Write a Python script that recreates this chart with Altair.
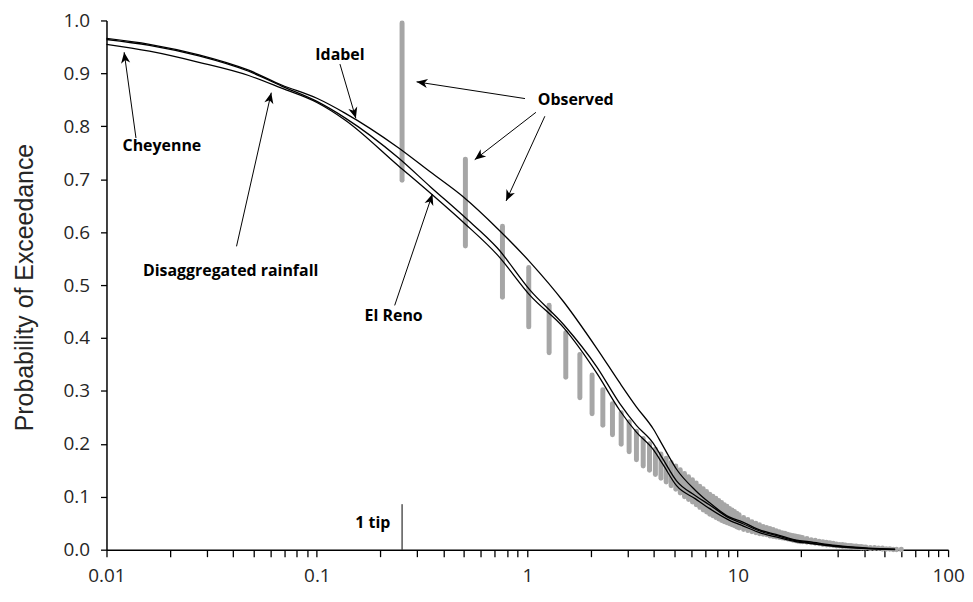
import math
import altair as alt
import pandas as pd

# ---------------- data ----------------
curve_x = [0.01, 0.016, 0.0275, 0.0474, 0.068, 0.1, 0.136, 0.243, 0.348, 0.502, 0.721, 1.033,
           1.491, 2.143, 2.753, 3.3, 3.972, 4.4, 5.12, 6.3, 7.33, 9.1, 10.58, 13.0, 15.2, 19.0,
           21.8, 29.2, 41.9, 56.0]
idabel = [0.966, 0.955, 0.935, 0.906, 0.878, 0.853, 0.825, 0.760, 0.713, 0.665, 0.607, 0.543,
          0.468, 0.380, 0.315, 0.270, 0.228, 0.197, 0.152, 0.112, 0.089, 0.062, 0.052, 0.036,
          0.029, 0.018, 0.015, 0.008, 0.003, 0.001]
el_reno = [0.964, 0.953, 0.933, 0.904, 0.876, 0.847, 0.816, 0.741, 0.685, 0.629, 0.570, 0.490,
           0.425, 0.345, 0.276, 0.235, 0.201, 0.172, 0.130, 0.102, 0.085, 0.060, 0.049, 0.034,
           0.027, 0.017, 0.013, 0.007, 0.002, 0.0005]
cheyenne = [0.955, 0.942, 0.921, 0.896, 0.872, 0.845, 0.812, 0.726, 0.673, 0.617, 0.557, 0.480,
            0.419, 0.333, 0.263, 0.222, 0.189, 0.162, 0.121, 0.096, 0.078, 0.056, 0.045, 0.031,
            0.024, 0.015, 0.012, 0.006, 0.002, 0.0003]

# observed: number of tips (1 tip = 0.254 mm), top and bottom of each vertical bar
tip_mm = 0.254
obs_n = list(range(1, 41)) + list(range(42, 81, 2)) + list(range(84, 161, 4)) + \
        [168, 176, 184, 192, 200, 208, 216, 224, 236]
obs_top = [0.995, 0.738, 0.611, 0.533, 0.462, 0.410, 0.369, 0.330, 0.302, 0.276,
           0.259, 0.242, 0.224, 0.210, 0.200, 0.190, 0.181, 0.173, 0.165, 0.158,
           0.151, 0.144, 0.138, 0.132, 0.126, 0.120, 0.115, 0.110, 0.105, 0.101,
           0.097, 0.093, 0.089, 0.085, 0.082, 0.078, 0.075, 0.072, 0.069, 0.066,
           0.061, 0.057, 0.053, 0.050, 0.047, 0.044, 0.042, 0.040, 0.038, 0.036,
           0.034, 0.032, 0.031, 0.029, 0.028, 0.027, 0.026, 0.025, 0.024, 0.023,
           0.021, 0.019, 0.018, 0.016, 0.015, 0.014, 0.013, 0.012, 0.011, 0.010,
           0.010, 0.009, 0.008, 0.008, 0.007, 0.007, 0.006, 0.006, 0.005, 0.005,
           0.004, 0.004, 0.003, 0.003, 0.002, 0.002, 0.001, 0.001, 0.001]
obs_bot = [0.698, 0.574, 0.477, 0.421, 0.372, 0.326, 0.287, 0.257, 0.235, 0.217,
           0.199, 0.185, 0.170, 0.158, 0.150, 0.142, 0.135, 0.128, 0.121, 0.114,
           0.107, 0.100, 0.095, 0.090, 0.085, 0.080, 0.075, 0.071, 0.067, 0.064,
           0.061, 0.058, 0.055, 0.053, 0.051, 0.049, 0.047, 0.045, 0.043, 0.041,
           0.038, 0.036, 0.034, 0.032, 0.030, 0.029, 0.028, 0.026, 0.025, 0.024,
           0.023, 0.022, 0.021, 0.020, 0.019, 0.018, 0.017, 0.016, 0.015, 0.015,
           0.014, 0.013, 0.012, 0.011, 0.010, 0.009, 0.009, 0.008, 0.007, 0.007,
           0.006, 0.006, 0.005, 0.005, 0.004, 0.004, 0.004, 0.003, 0.003, 0.003,
           0.002, 0.002, 0.002, 0.001, 0.001, 0.001, 0.000, 0.000, 0.000]

# axis ticks
x_ticks = [0.01, 0.02, 0.03, 0.04, 0.05, 0.06, 0.07, 0.08, 0.09,
           0.1, 0.2, 0.3, 0.4, 0.5, 0.6, 0.7, 0.8, 0.9,
           1, 2, 3, 4, 5, 6, 7, 8, 9,
           10, 20, 30, 40, 50, 60, 70, 80, 90, 100]
y_ticks = [0.0, 0.05, 0.1, 0.15, 0.2, 0.25, 0.3, 0.35, 0.4, 0.45, 0.5,
           0.55, 0.6, 0.65, 0.7, 0.75, 0.8, 0.85, 0.9, 0.95, 1.0]

# annotations (data units)
label_text = ["Idabel", "Cheyenne", "Disaggregated rainfall", "Observed", "El Reno", "1 tip"]
label_x = [0.1287, 0.01834, 0.0389, 1.699, 0.2317, 0.1844]
label_y = [0.934, 0.763, 0.527, 0.8505, 0.441, 0.0503]

arrow_x = [0.1287, 0.01381, 0.0415, 0.975, 1.099, 1.212, 0.2343]
arrow_y = [0.9176, 0.778, 0.5732, 0.8524, 0.8264, 0.819, 0.4616]
arrow_x2 = [0.1532, 0.01213, 0.0607, 0.2977, 0.5626, 0.793, 0.3542]
arrow_y2 = [0.8152, 0.940, 0.8636, 0.884, 0.737, 0.659, 0.6719]

tip_line_x = [0.254]
tip_line_y = [0.0]
tip_line_y2 = [0.086]

# ---------------- build tables ----------------
W, H = 846, 532

curves = pd.DataFrame(
    [{"x": cx, "y": v, "series": name}
     for name, vals in [("Idabel", idabel), ("El Reno", el_reno), ("Cheyenne", cheyenne)]
     for cx, v in zip(curve_x, vals)]
)
obs = pd.DataFrame({"x": [n * tip_mm for n in obs_n], "y": obs_top, "y2": obs_bot})
labels = pd.DataFrame({"x": label_x, "y": label_y, "text": label_text})


def _px(xv, yv):
    return W * (math.log10(xv) + 2) / 4.0, H * (1 - yv)


angles = []
for a, b, c, d in zip(arrow_x, arrow_y, arrow_x2, arrow_y2):
    p0 = _px(a, b)
    p1 = _px(c, d)
    ang = math.degrees(math.atan2(p1[0] - p0[0], -(p1[1] - p0[1]))) % 360
    angles.append(ang)
arrows = pd.DataFrame({"x": arrow_x, "y": arrow_y, "x2": arrow_x2, "y2": arrow_y2})
heads = pd.DataFrame({"x": arrow_x2, "y": arrow_y2, "angle": angles})
tipline = pd.DataFrame({"x": tip_line_x, "y": tip_line_y, "y2": tip_line_y2})

xscale = alt.Scale(type="log", domain=[0.01, 100], nice=False)
yscale = alt.Scale(domain=[0, 1], nice=False, zero=True)

x_axis = alt.Axis(
    values=x_ticks,
    labelExpr="abs(log(datum.value)/LN10 - round(log(datum.value)/LN10)) < 0.001 ? format(datum.value, '~g') : ''",
    title=None, grid=False, tickSize=7, labelPadding=25, labelBaseline="alphabetic",
    labelOverlap=False, labelFlush=False, labelFontSize=19,
)
y_axis = alt.Axis(
    values=y_ticks,
    labelExpr="abs(datum.value*10 - round(datum.value*10)) < 0.001 ? format(datum.value, '.1f') : ''",
    title="Probability of Exceedance", grid=False, tickSize=6, labelPadding=11,
    labelOverlap=False, labelFlush=False, labelFontSize=19,
    titleFont="Liberation Sans", titleFontSize=25, titleFontWeight="normal",
    titleColor="#262626", titleAngle=270, titleX=-74, titleY=268,
    titleAlign="center", titleBaseline="alphabetic",
)

bars = alt.Chart(obs).mark_rule(strokeWidth=5, strokeCap="round", color="#a6a6a6").encode(
    x=alt.X("x:Q", scale=xscale, axis=x_axis),
    y=alt.Y("y:Q", scale=yscale, axis=y_axis),
    y2="y2:Q",
)

lines = alt.Chart(curves).mark_line(color="black", strokeWidth=1.3, interpolate="monotone").encode(
    x="x:Q", y="y:Q", detail="series:N",
)

tip_rule = alt.Chart(tipline).mark_rule(color="black", strokeWidth=1).encode(
    x="x:Q", y="y:Q", y2="y2:Q",
)

arrow_lines = alt.Chart(arrows).mark_rule(color="black", strokeWidth=1).encode(
    x="x:Q", y="y:Q", x2="x2:Q", y2="y2:Q",
)

arrow_heads = alt.Chart(heads).mark_point(
    shape="M0,0L0.42,1L0,0.72L-0.42,1Z", filled=True, size=484, color="black", opacity=1,
    strokeWidth=0,
).encode(x="x:Q", y="y:Q", angle=alt.Angle("angle:Q", scale=None))

texts = alt.Chart(labels).mark_text(
    font="Open Sans", fontWeight="bold", fontSize=16, color="black",
    align="center", baseline="middle",
).encode(x="x:Q", y="y:Q", text="text:N")

chart = alt.layer(bars, lines, tip_rule, arrow_lines, arrow_heads, texts).properties(
    width=W, height=H,
    padding={"left": 99, "top": 11, "right": 17, "bottom": 39},
    autosize=alt.AutoSizeParams(type="none"),
    background="white",
).configure_axis(
    domainColor="black", domainWidth=1.5, tickColor="black", tickWidth=1.3,
    labelFont="Open Sans", labelColor="#262626",
).configure_view(stroke=None)

chart.save("out.html", embed_options={"renderer": "svg", "actions": False})
